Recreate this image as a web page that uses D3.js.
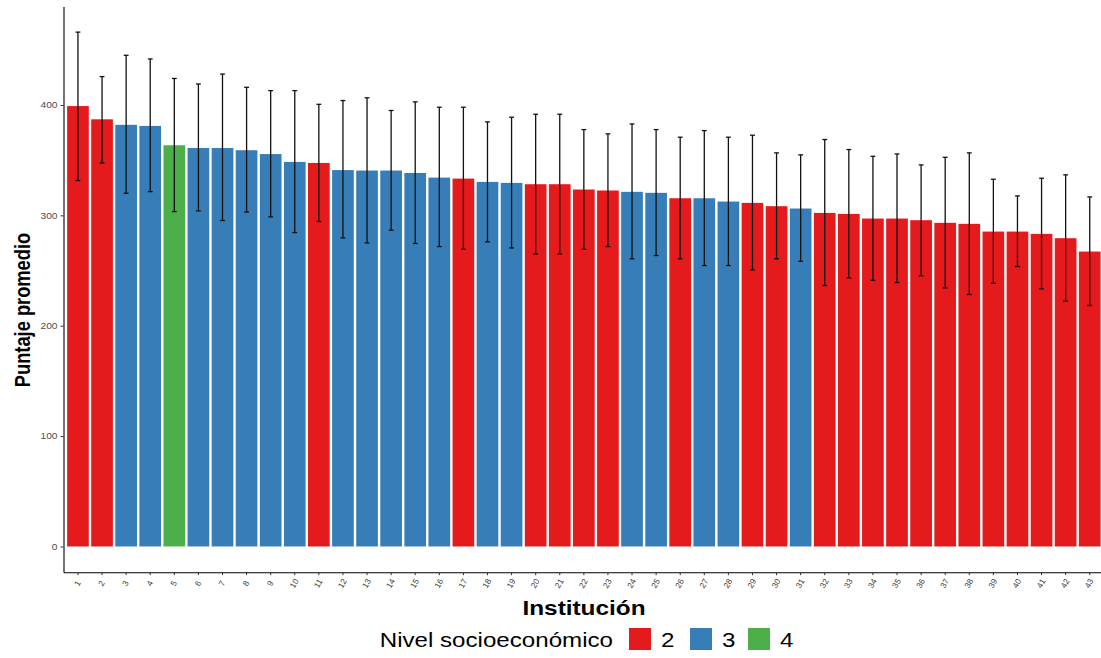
<!DOCTYPE html>
<html>
<head>
<meta charset="utf-8">
<script src="https://cdn.jsdelivr.net/npm/d3@7"></script>
<style>
  html, body { margin: 0; padding: 0; background: #fff; }
  svg { display: block; }
  text { font-family: "Liberation Sans", Arial, sans-serif; }
</style>
</head>
<body>
<svg id="chart" width="1101" height="658"></svg>
<script>
// Institutions, ordered by average score
const institutions = d3.range(1, 44).map(String);

// Socioeconomic level of each institution
const levels = [
  "2","2","3","3","4","3","3","3","3","3",
  "2","3","3","3","3","3","2","3","3","2",
  "2","2","2","3","3","2","3","3","2","2",
  "3","2","2","2","2","2","2","2","2","2",
  "2","2","2"
];

// Average score per institution
const means = [
  399, 387, 382, 381, 363.5, 361, 361, 359, 355.5, 348.4,
  347.5, 341, 340.6, 340.6, 338.4, 334.2, 333.3, 330.3, 329.4, 328.2,
  328.2, 323.4, 322.5, 321.3, 320.4, 315.5, 315.5, 312.5, 311.3, 308.3,
  306.2, 302.2, 301.3, 297.1, 297.1, 295.6, 293.2, 292.3, 285.3, 285.3,
  283.2, 279.3, 267.2
];

// Upper and lower ends of the error bars
const upper = [
  466, 425.7, 445, 441.7, 424, 419, 428, 416, 413, 413,
  400.6, 404, 406.5, 395, 402.8, 398, 398, 384.7, 388.9, 391.6,
  391.6, 377.7, 373.8, 382.8, 377.7, 370.8, 376.8, 370.8, 372.6, 356.6,
  354.8, 368.7, 359.6, 353.5, 355.6, 345.7, 352.6, 356.6, 332.7, 317.6,
  333.6, 336.7, 316.7
];
const lower = [
  331.5, 347.5, 320, 321.5, 303.4, 304, 295.3, 303, 298.6, 284.4,
  294.4, 279.6, 275, 286.5, 274.5, 271.7, 269.3, 276, 270.5, 265,
  265, 269.3, 271.7, 260.6, 263.6, 260.6, 254.5, 254.5, 250.6, 260.6,
  258.4, 236.4, 243.4, 241.2, 239.1, 245.2, 234.3, 228.3, 238.5, 253.6,
  233.4, 222.2, 218.3
];

const levelKeys = ["2", "3", "4"];
const levelColors = ["#E41A1C", "#377EB8", "#4DAF4A"];
const yTicks = [0, 100, 200, 300, 400];

const rows = institutions.map((id, i) => ({
  id, level: levels[i], mean: means[i], lo: lower[i], hi: upper[i]
}));

const svg = d3.select("#chart");
const SX = 1.16; // horizontal text stretch

const plotLeft = 63.5;
const step = 24.09;
const plotRight = plotLeft + step * 43.2;
const plotTop = 6.4, plotBottom = 572.2;

const yMax = d3.max(upper);
const pad = yMax * 0.05;

const x = d3.scaleBand()
  .domain(institutions)
  .range([plotLeft, plotRight])
  .paddingInner(0.1)
  .paddingOuter(0.15);

const y = d3.scaleLinear()
  .domain([-pad, yMax + pad])
  .range([plotBottom, plotTop]);

const color = d3.scaleOrdinal().domain(levelKeys).range(levelColors);

// Bars
svg.append("g")
  .selectAll("rect")
  .data(rows)
  .join("rect")
  .attr("x", d => x(d.id))
  .attr("width", x.bandwidth())
  .attr("y", d => y(d.mean))
  .attr("height", d => y(0) - y(d.mean))
  .attr("fill", d => color(d.level));

// Error bars
const capW = step * 0.2;
const eb = svg.append("g")
  .attr("stroke", "#111")
  .attr("stroke-width", 1.3)
  .attr("fill", "none");
eb.selectAll("line.v")
  .data(rows).join("line").attr("class", "v")
  .attr("x1", d => x(d.id) + x.bandwidth() / 2)
  .attr("x2", d => x(d.id) + x.bandwidth() / 2)
  .attr("y1", d => y(d.lo))
  .attr("y2", d => y(d.hi));
eb.selectAll("line.t")
  .data(rows).join("line").attr("class", "t")
  .attr("x1", d => x(d.id) + x.bandwidth() / 2 - capW / 2)
  .attr("x2", d => x(d.id) + x.bandwidth() / 2 + capW / 2)
  .attr("y1", d => y(d.hi))
  .attr("y2", d => y(d.hi));
eb.selectAll("line.b")
  .data(rows).join("line").attr("class", "b")
  .attr("x1", d => x(d.id) + x.bandwidth() / 2 - capW / 2)
  .attr("x2", d => x(d.id) + x.bandwidth() / 2 + capW / 2)
  .attr("y1", d => y(d.lo))
  .attr("y2", d => y(d.lo));

// Y axis
const yAxis = svg.append("g")
  .attr("transform", `translate(${plotLeft},0)`)
  .call(d3.axisLeft(y).tickValues(yTicks).tickSize(3).tickPadding(3).tickSizeOuter(0));
yAxis.select(".domain").attr("stroke", "#000").attr("stroke-width", 1.1);
yAxis.selectAll(".tick line").attr("stroke", "#333");
yAxis.selectAll(".tick text")
  .attr("fill", "#4D4D4D")
  .style("font-size", "8.8px")
  .attr("transform", function () {
    const xx = +d3.select(this).attr("x") || -6;
    return `translate(${xx},0) scale(${SX},1) translate(${-xx},0)`;
  });

// X axis
const xAxis = svg.append("g")
  .attr("transform", `translate(0,${plotBottom})`)
  .call(d3.axisBottom(x).tickSize(3).tickPadding(0).tickSizeOuter(0));
xAxis.select(".domain").attr("stroke", "#000").attr("stroke-width", 1.1);
xAxis.selectAll(".tick line").attr("stroke", "#333");
xAxis.selectAll(".tick text")
  .attr("fill", "#3a3a3a")
  .style("font-size", "8.2px")
  .attr("text-anchor", "middle")
  .attr("dy", null)
  .attr("y", null)
  .attr("transform", "translate(0,11.5) rotate(-60)")
  .attr("dominant-baseline", "middle");

// Axis titles
svg.append("text")
  .attr("transform", `translate(29.5,310) rotate(-90) scale(1,${SX})`)
  .attr("text-anchor", "middle")
  .style("font-size", "18.3px")
  .style("font-weight", "bold")
  .attr("fill", "#000")
  .text("Puntaje promedio");

svg.append("text")
  .attr("transform", `translate(584,615) scale(${SX},1)`)
  .attr("text-anchor", "middle")
  .style("font-size", "21px")
  .style("font-weight", "bold")
  .attr("fill", "#000")
  .text("Institución");

// Legend
const legend = svg.append("g");
legend.append("text")
  .attr("transform", `translate(613,647) scale(${SX},1)`)
  .attr("text-anchor", "end")
  .style("font-size", "20.8px")
  .attr("fill", "#000")
  .text("Nivel socioeconómico");

const keyX = [629, 690, 748];
levelKeys.forEach((k, i) => {
  legend.append("rect")
    .attr("x", keyX[i]).attr("y", 628)
    .attr("width", 22).attr("height", 22)
    .attr("fill", color(k));
  legend.append("text")
    .attr("transform", `translate(${keyX[i] + 32},647) scale(${SX},1)`)
    .style("font-size", "20.8px")
    .attr("fill", "#000")
    .text(k);
});
</script>
</body>
</html>
